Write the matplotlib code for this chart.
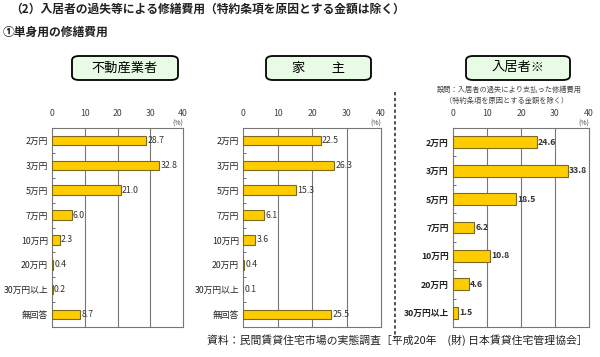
import matplotlib
matplotlib.use('Agg')
import matplotlib.pyplot as plt
from matplotlib.patches import FancyBboxPatch
from matplotlib.lines import Line2D

plt.rcParams['font.family'] = ['Noto Sans CJK JP', 'DejaVu Sans']

# ─────────────────────────────────────────────
#  Data
# ─────────────────────────────────────────────
cats_8 = ["2万円", "3万円", "5万円", "7万円", "10万円", "20万円", "30万円以上", "無回答"]
cats_7 = cats_8[:7]

agent_vals = [28.7, 32.8, 21.0, 6.0, 2.3, 0.4, 0.2, 8.7]
owner_vals = [22.5, 26.3, 15.3, 6.1, 3.6, 0.4, 0.1, 25.5]
tenant_vals = [24.6, 33.8, 18.5, 6.2, 10.8, 4.6, 1.5]

x_ticks = [0, 10, 20, 30, 40]

panel_titles = ["不動産業者", "家　　主", "入居者※"]

BAR_COLOR = '#FFCC00'
EDGE_COLOR = '#7a6a20'

fig = plt.figure(figsize=(6.0, 3.57), dpi=100)
W, H = 600, 357


def fx(px):
    return px / W


def fy(py):
    return 1 - py / H


def draw_panel(left, right, cats, vals, bar_h, bold=False):
    ax = fig.add_axes([fx(left), fy(327), fx(right - left), fy(128) - fy(327)])
    n = len(cats)
    ypos = list(range(n))
    ax.barh(ypos, vals, height=bar_h, color=BAR_COLOR, edgecolor=EDGE_COLOR, linewidth=0.8, zorder=3)
    ax.set_xlim(0, 40)
    ax.set_ylim(n - 0.5, -0.5)
    ax.set_yticks(ypos)
    ax.set_yticklabels(cats, fontsize=6.3, fontweight='bold' if bold else 'normal', color='#222222')
    ax.set_yticks([i + 0.5 for i in range(n - 1)], minor=True)
    ax.tick_params(axis='y', which='major', length=0, pad=3)
    ax.tick_params(axis='y', which='minor', length=2, direction='in', color='#555555')
    ax.xaxis.tick_top()
    ax.set_xticks(x_ticks)
    ax.set_xticklabels([str(t) for t in x_ticks], fontsize=6.3, color='#444444')
    ax.tick_params(axis='x', length=0, pad=7)
    for t in x_ticks[1:-1]:
        ax.axvline(t, color='#777777', linewidth=0.8, zorder=1)
    for sp in ax.spines.values():
        sp.set_color('#777777')
        sp.set_linewidth(0.8)
    for y, v in zip(ypos, vals):
        ax.text(v + 0.4, y, f"{v:.1f}", va='center', ha='left', fontsize=6.3,
                fontweight='bold' if bold else 'normal', color='#333333', zorder=4)
    ax.text(1.0, 1.0, "(%)", transform=ax.transAxes, ha='right', va='bottom',
            fontsize=5.0, color='#444444')
    return ax


draw_panel(52, 183, cats_8, agent_vals, 0.38)
draw_panel(243, 381, cats_8, owner_vals, 0.38)
draw_panel(453, 589, cats_7, tenant_vals, 0.42, bold=True)

# title boxes
boxes = [(72, 178), (266, 371), (466, 570)]
for (x0, x1), title in zip(boxes, panel_titles):
    y0, y1 = 56, 80
    box = FancyBboxPatch((fx(x0), fy(y1)), fx(x1 - x0), fy(y0) - fy(y1),
                         boxstyle="round,pad=0,rounding_size=0.012",
                         transform=fig.transFigure, facecolor='#e8fbe4',
                         edgecolor='black', linewidth=1.3)
    fig.patches.append(box)
    fig.text(fx((x0 + x1) / 2), fy((y0 + y1) / 2), title, ha='center', va='center', fontsize=9.5)

# dashed separator
fig.add_artist(Line2D([fx(395), fx(395)], [fy(92), fy(338)], transform=fig.transFigure,
                      color='#333333', linewidth=1.2, linestyle=(0, (2, 1.5))))

# header texts
fig.text(fx(10), fy(9), "（2）入居者の過失等による修繕費用（特約条項を原因とする金額は除く）",
         ha='left', va='center', fontsize=8.5, fontweight='bold', color='#222222')
fig.text(fx(3), fy(32), "①単身用の修繕費用", ha='left', va='center', fontsize=8.5,
         fontweight='bold', color='#222222')

# panel 3 question text
fig.text(fx(509), fy(90), "設問：入居者の過失により支払った修繕費用", ha='center', va='center',
         fontsize=5.2, color='#444444')
fig.text(fx(507), fy(101), "（特約条項を原因とする金額を除く）", ha='center', va='center',
         fontsize=5.2, color='#444444')

# source
fig.text(fx(588), fy(340), "資料：民間賃貸住宅市場の実態調査［平成20年　(財) 日本賃貸住宅管理協会］",
         ha='right', va='center', fontsize=7.8, color='#222222')

fig.savefig("out.png", dpi=100)
